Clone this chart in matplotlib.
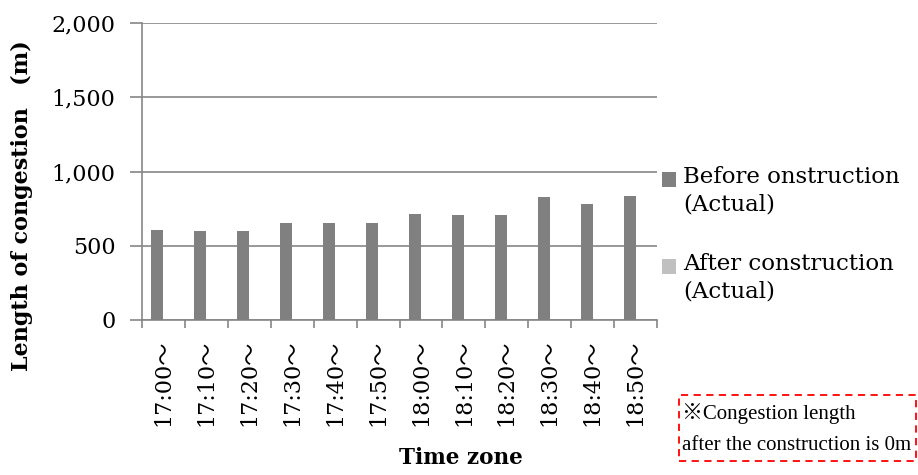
import matplotlib
matplotlib.use("Agg")
import matplotlib.pyplot as plt
import matplotlib.patches as patches
import numpy as np

# congestion length per 10-minute time zone (m)
time_zones = ["17:00～", "17:10～", "17:20～", "17:30～", "17:40～", "17:50～",
              "18:00～", "18:10～", "18:20～", "18:30～", "18:40～", "18:50～"]
before = [605, 596, 596, 651, 655, 655, 715, 710, 710, 827, 784, 834]
after = [0, 0, 0, 0, 0, 0, 0, 0, 0, 0, 0, 0]
series_labels = ["Before onstruction\n(Actual)", "After construction\n(Actual)"]
y_ticks = [0, 500, 1000, 1500, 2000]

SERIF = ["DejaVu Serif", "Noto Sans CJK JP"]
GRID = "#868686"
C_BEFORE = "#808080"
C_AFTER = "#c0c0c0"

plt.rcParams["font.family"] = SERIF

fig = plt.figure(figsize=(9.18, 4.75), dpi=100)
ax = fig.add_axes([142 / 918, 1 - 320 / 475, 515 / 918, 297 / 475])

x = np.arange(len(time_zones))
w = 0.28
b1 = ax.bar(x - w / 2, before, w, color=C_BEFORE, zorder=3)
b2 = ax.bar(x + w / 2, after, w, color=C_AFTER, zorder=3)

ax.set_xlim(-0.5, len(time_zones) - 0.5)
ax.set_ylim(0, 2000)
ax.set_yticks(y_ticks)
ax.set_yticklabels([f"{v:,}" for v in y_ticks])
ax.yaxis.grid(True, color=GRID, linewidth=1.2)
ax.set_axisbelow(True)

# category boundaries carry the tick marks, labels sit at the centres
ax.set_xticks(np.arange(-0.5, len(time_zones)), minor=False)
ax.set_xticklabels([])
ax.set_xticks(x, minor=True)
ax.set_xticklabels(time_zones, minor=True, rotation=90, fontsize=16, va="top")
ax.tick_params(axis="x", which="major", length=6, width=1.2, color=GRID)
ax.tick_params(axis="x", which="minor", length=0, pad=14)
ax.tick_params(axis="y", length=9, width=1.2, color=GRID, pad=10, labelsize=16)

for s in ["top", "right"]:
    ax.spines[s].set_visible(False)
for s in ["left", "bottom"]:
    ax.spines[s].set_color(GRID)
    ax.spines[s].set_linewidth(1.2)

fig.text(22 / 918, 1 - 206 / 475, "Length of congestion\u3000(m)", rotation=90,
         ha="center", va="center", fontsize=16, fontweight="bold")
fig.text(461 / 918, 1 - 458 / 475, "Time zone", ha="center", va="center",
         fontsize=15.5, fontweight="bold")

# legend drawn beside the plot, swatch level with the first text line
legend_rows = [(b1, 179), (b2, 266)]
for (bars, ytop), label in zip(legend_rows, series_labels):
    fc = bars.patches[0].get_facecolor()
    fig.patches.append(patches.Rectangle((662 / 918, 1 - (ytop + 8) / 475), 14 / 918, 15 / 475,
                                         transform=fig.transFigure, facecolor=fc,
                                         edgecolor="none"))
    fig.text(683 / 918, 1 - (ytop - 13) / 475, label, ha="left", va="top",
             fontsize=16.5, linespacing=1.3)

# note box
fig.patches.append(patches.Rectangle((679 / 918, 1 - 461 / 475), 237 / 918, 66 / 475,
                                     transform=fig.transFigure, fill=False,
                                     edgecolor="#ff0000", linestyle=(0, (4, 3)),
                                     linewidth=1.3))
note_font = ["Liberation Serif", "Noto Sans CJK JP"]
fig.text(682 / 918, 1 - 413 / 475, "※Congestion length", ha="left", va="center",
         fontsize=15, family=note_font)
fig.text(682 / 918, 1 - 445 / 475, "after the construction is 0m", ha="left", va="center",
         fontsize=15, family=note_font)

fig.savefig("out.png", dpi=100)
